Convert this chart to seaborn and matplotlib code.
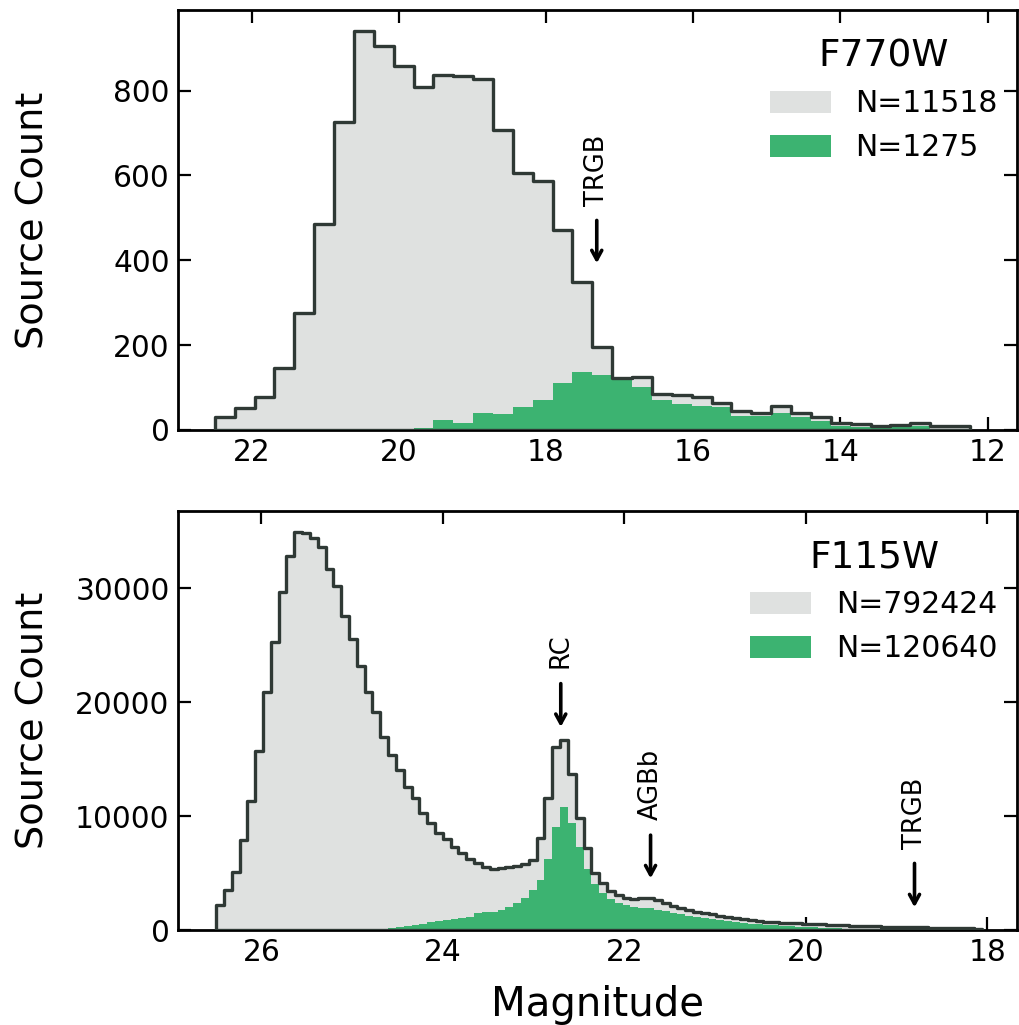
import numpy as np
import pandas as pd
import matplotlib
matplotlib.use("Agg")
import matplotlib.pyplot as plt
import seaborn as sns
from matplotlib.patches import Patch

sns.set_theme(style="ticks")
plt.rcParams['font.family'] = ['DejaVu Sans']
plt.rcParams.update({"text.color": "black", "axes.labelcolor": "black",
                     "xtick.color": "black", "ytick.color": "black",
                     "axes.edgecolor": "black"})

# ---------------- data (counts per bin, listed from faint to bright) ----------------
f770w_bin_start = 22.5
f770w_bin_width = 0.27
f770w_all = [31, 52, 78, 147, 276, 485, 725, 941, 906, 857, 808, 837, 835, 827, 706,
             605, 587, 471, 348, 196, 122, 125, 85, 82, 78, 63, 45, 39, 56, 41, 30,
             16, 14, 9, 12, 17, 9, 9]
f770w_sel = [0, 0, 0, 0, 0, 0, 0, 0, 1, 2, 5, 23, 16, 39, 37,
             55, 71, 110, 137, 129, 118, 102, 71, 61, 56, 54, 33, 33, 39, 31, 22,
             10, 8, 4, 6, 10, 3, 2]
f770w_labels = ["N=11518", "N=1275"]

f115w_bin_start = 26.5
f115w_bin_width = 0.0862
f115w_all = [2193, 3509, 5117, 7895, 11345, 15731, 20906, 25293, 29679, 32836,
             34939, 34850, 34450, 33625, 31725, 30175, 27544, 25585, 23158, 20906,
             19152, 16959, 15351, 14035, 12573, 11550, 10292, 9415, 8538, 7980,
             7310, 6725, 6199, 5848, 5556, 5351, 5468, 5556, 5643, 5760,
             6140, 8041, 11608, 16082, 16728, 13743, 9795, 7164, 4971, 4094,
             3421, 3070, 2836, 2690, 2836, 2836, 2632, 2339, 2105, 1900,
             1754, 1608, 1462, 1374, 1257, 1170, 1082, 965, 877, 818,
             731, 673, 643, 620, 590, 560, 530, 500, 470, 440,
             410, 385, 360, 340, 320, 300, 285, 270, 255, 240,
             225, 210, 195, 180, 165, 150, 135, 120]
f115w_sel = [0, 0, 0, 0, 0, 0, 0, 0, 0, 0,
             0, 0, 0, 0, 0, 0, 0, 0, 10, 30,
             70, 130, 200, 280, 370, 460, 560, 660, 760, 860,
             960, 1060, 1170, 1462, 1550, 1608, 1754, 2047, 2398, 2778,
             3509, 4386, 6199, 9064, 10760, 9415, 7310, 5322, 4035, 3216,
             2690, 2398, 2200, 2050, 1950, 1900, 1800, 1650, 1500, 1380,
             1260, 1150, 1050, 960, 880, 800, 720, 640, 570, 510,
             450, 400, 360, 320, 280, 250, 220, 190, 165, 140,
             120, 100, 85, 70, 55, 45, 35, 25, 15, 10,
             5, 5, 5, 5, 5, 5, 5, 5]
f115w_labels = ["N=792424", "N=120640"]

# annotations: (label, magnitude, text_y, arrow_start_y, arrow_tip_y)
f770w_marks = [("TRGB", 17.31, 529, 494, 393)]
f115w_marks = [("RC", 22.70, 23000, 21640, 17830),
               ("AGBb", 21.71, 9650, 8330, 4530),
               ("TRGB", 18.80, 7080, 5850, 1990)]

GREY = "#dfe1e0"
EDGE = "#2f3935"
GREEN = "#3cb371"

TICK_FS = 21.3
LABEL_FS = 27.5


def panel(ax, start, width, all_counts, sel_counts, labels, title, marks,
          xlim, ylim, yticks, xticks):
    n = len(all_counts)
    edges = sorted((start - width * np.arange(n + 1)).tolist())
    centers = start - width * (np.arange(n) + 0.5)
    df = pd.DataFrame({"mag": centers, "all": all_counts, "sel": sel_counts})
    sns.histplot(data=df, x="mag", weights="all", bins=edges, element="step",
                 fill=True, color=GREY, alpha=1, edgecolor="none", linewidth=0,
                 ax=ax, zorder=1)
    sns.histplot(data=df, x="mag", weights="sel", bins=edges, element="step",
                 fill=True, color=GREEN, alpha=1, edgecolor="none", linewidth=0,
                 ax=ax, zorder=2)
    sns.histplot(data=df, x="mag", weights="all", bins=edges, element="step",
                 fill=True, color=EDGE, facecolor="none", alpha=1, edgecolor=EDGE,
                 linewidth=2.4, ax=ax, zorder=3)
    ax.set_xlim(*xlim)
    ax.set_ylim(*ylim)
    ax.set_yticks(yticks)
    ax.set_xticks(xticks)
    ax.tick_params(direction="in", top=True, right=True, length=9.5, width=1.6,
                   labelsize=TICK_FS, pad=6)
    for sp in ax.spines.values():
        sp.set_linewidth(2.0)
        sp.set_color("black")
    ax.set_ylabel("Source Count", fontsize=LABEL_FS)
    ax.yaxis.set_label_coords(-0.151, 0.5)
    ax.set_xlabel("")
    handles = [Patch(facecolor=GREY, edgecolor="none"),
               Patch(facecolor=GREEN, edgecolor="none")]
    ax.legend(handles, labels, loc="upper right", frameon=False,
              bbox_to_anchor=(1.004, 1 - 6 / 420),
              fontsize=21.5, title=title, title_fontsize=27,
              handlelength=2.04, handleheight=0.74, handletextpad=0.84,
              labelspacing=0.5, borderaxespad=0.35)
    for name, x, ty, y0, y1 in marks:
        ax.text(x, ty, name, rotation=90, ha="center", va="bottom", fontsize=18.5)
        ax.annotate("", xy=(x, y1), xytext=(x, y0),
                    arrowprops=dict(arrowstyle="->,head_width=0.3,head_length=0.55",
                                    lw=2.6, color="black", shrinkA=0, shrinkB=0))


fig = plt.figure(figsize=(10.19, 10.25), dpi=100)
ax1 = fig.add_axes([178 / 1019, 1 - 430 / 1025, 839 / 1019, 420 / 1025])
ax2 = fig.add_axes([178 / 1019, 1 - 930 / 1025, 839 / 1019, 419 / 1025])

panel(ax1, f770w_bin_start, f770w_bin_width, f770w_all, f770w_sel, f770w_labels,
      "F770W", f770w_marks, (23.0, 11.6), (0, 990), [0, 200, 400, 600, 800],
      [22, 20, 18, 16, 14, 12])
panel(ax2, f115w_bin_start, f115w_bin_width, f115w_all, f115w_sel, f115w_labels,
      "F115W", f115w_marks, (26.92, 17.67), (0, 36800), [0, 10000, 20000, 30000],
      [26, 24, 22, 20, 18])
ax2.set_xlabel("Magnitude", fontsize=29, labelpad=13)

fig.savefig("out.png", dpi=100)
